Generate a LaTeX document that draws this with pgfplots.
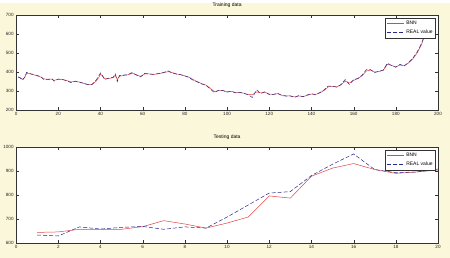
\documentclass[border=0pt]{standalone}
\usepackage{pgfplots}
\pgfplotsset{compat=1.18}
\usepackage{fontspec}
\setmainfont{Liberation Sans}
\definecolor{figbg}{RGB}{250,247,218}
\definecolor{bnnred}{RGB}{225,70,70}
\definecolor{realblue}{RGB}{40,40,140}

\pgfplotstableread{
x y
1 375
2 368
3 356
4 372
5 398
6 393
8 388
10 382
12 373
13 361
15 360
17 365
18 352
20 363
22 361
24 354
26 344
28 352
30 347
32 340
34 333
36 334
38 358
39 376
40 395
41 378
42 360
44 368
46 372
47 390
48 350
49 382
51 384
53 386
55 397
57 384
59 374
61 393
63 389
65 388
67 391
70 398
72 406
74 395
76 389
78 386
80 379
82 371
84 356
86 347
88 337
90 330
92 312
94 291
96 304
98 303
100 294
102 299
104 290
106 293
108 287
110 280
112 266
114 306
116 287
118 296
120 281
122 282
124 288
126 276
128 273
130 274
132 266
134 276
136 270
138 279
140 286
142 280
144 292
146 306
148 326
150 325
152 320
154 334
156 360
158 334
160 360
162 366
164 383
166 412
168 413
170 397
172 404
174 410
176 446
178 434
180 425
182 440
184 432
186 450
188 472
190 503
192 546
193 575
194 600
}\trainreal

\pgfplotstableread{
x y
1 372
2 370
3 362
4 370
5 392
6 392
8 386
10 380
12 372
13 364
15 362
17 362
18 356
20 362
22 360
24 355
26 348
28 350
30 347
32 341
34 335
36 335
38 352
39 368
40 388
41 380
42 365
44 366
46 370
47 384
48 360
49 378
51 382
53 385
55 394
57 386
59 377
61 390
63 390
65 387
67 390
70 396
72 402
74 397
76 390
78 386
80 380
82 373
84 360
86 349
88 339
90 331
92 315
94 297
96 302
98 302
100 296
102 298
104 292
106 293
108 288
110 282
112 280
114 295
116 290
118 293
120 284
122 282
124 286
126 278
128 275
130 274
132 269
134 274
136 271
138 277
140 284
142 282
144 290
146 303
148 322
150 325
152 322
154 332
156 352
158 342
160 356
162 365
164 380
166 405
168 410
170 400
172 403
174 408
176 440
178 435
180 427
182 437
184 433
186 447
188 468
190 498
192 540
193 570
194 598
}\trainbnn

\pgfplotstableread{
x y
1 644
2 646
3 657
4 657
5 657
6 668
7 693
8 679
9 662
10 683
11 708
12 796
13 787
14 878
15 912
16 931
17 906
18 890
19 896
20 904
}\testbnn

\pgfplotstableread{
x y
1 633
2 629
3 667
4 658
5 665
6 669
7 657
8 667
9 662
10 708
11 758
12 808
13 814
14 881
15 928
16 971
17 906
18 893
19 896
20 908
}\testreal

\pgfplotsset{
  mstyle/.style={
    scale only axis,
    anchor=south west,
    axis background/.style={fill=white},
    axis line style={black!80},
    tick style={black!80, major tick length=3pt},
    tick align=inside,
    /pgf/number format/assume math mode=true,
    /pgf/number format/set thousands separator={},
    tick label style={font=\fontsize{4.6}{5}\selectfont, text=black!85},
    xticklabel style={yshift=1pt},
    yticklabel style={xshift=1pt},
    title style={font=\fontsize{5}{6}\selectfont, yshift=-2.5pt},
    legend style={font=\fontsize{5}{6}\selectfont, draw=black!80,
      at={(0.995,0.97)}, anchor=north east, inner sep=1pt,
      row sep=0pt, cells={anchor=west}, fill=white},
    legend image post style={line width=0.6pt},
    scaled ticks=false,
  },
}

\begin{document}
\begin{tikzpicture}[x=1pt,y=1pt]
\fill[figbg] (0,0) rectangle (450,255);

% training set
\begin{axis}[mstyle, at={(16pt,148pt)}, width=422pt, height=95pt,
  xmin=0, xmax=200, ymin=200, ymax=700,
  xtick={0,20,...,200}, ytick={200,300,...,700},
  title={Training data}]
\addplot[bnnred, line width=0.5pt] table[x=x,y=y] {\trainbnn};
\addlegendentry{BNN}
\addplot[realblue, dash pattern=on 4pt off 2pt, line width=0.5pt] table[x=x,y=y] {\trainreal};
\addlegendentry{REAL value}
\end{axis}

% testing set
\begin{axis}[mstyle, at={(16pt,15pt)}, width=422pt, height=96pt,
  xmin=0, xmax=20, ymin=600, ymax=1000,
  xtick={0,2,...,20}, ytick={600,700,...,1000},
  title={Testing data}]
\addplot[bnnred, line width=0.5pt] table[x=x,y=y] {\testbnn};
\addlegendentry{BNN}
\addplot[realblue, dash pattern=on 4pt off 2pt, line width=0.5pt] table[x=x,y=y] {\testreal};
\addlegendentry{REAL value}
\end{axis}
\end{tikzpicture}
\end{document}
